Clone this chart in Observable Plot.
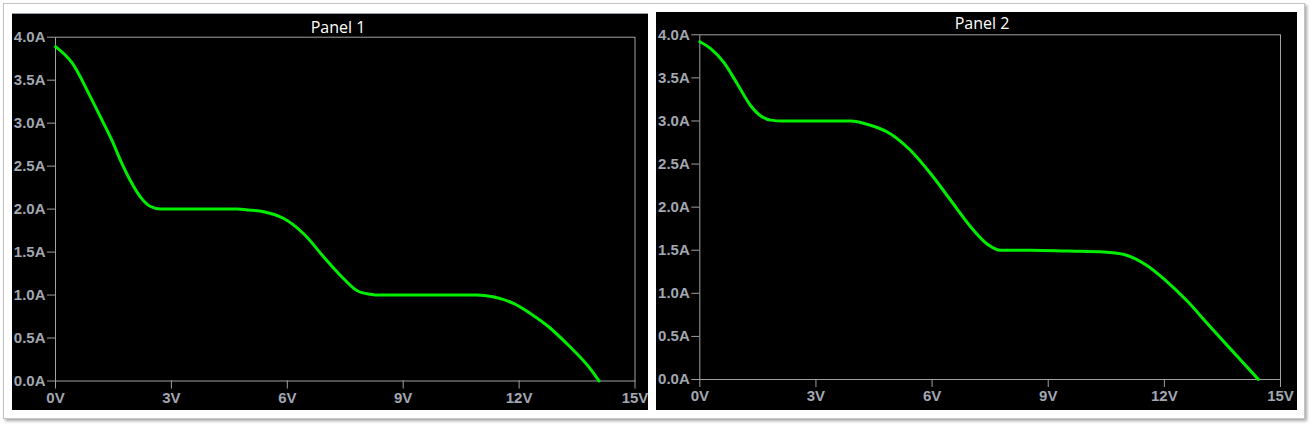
<!DOCTYPE html>
<html>
<head>
<meta charset="utf-8">
<script src="https://cdn.jsdelivr.net/npm/d3@7"></script>
<script src="https://cdn.jsdelivr.net/npm/@observablehq/plot@0.6"></script>
<style>
  html, body { margin: 0; padding: 0; background: #ffffff; width: 1310px; height: 424px; overflow: hidden; }
  #outer { position: absolute; left: 3px; top: 3px; width: 1300px; height: 414px; border: 1px solid #c4c4c4; background: #ffffff; box-shadow: 2px 2px 3px rgba(0,0,0,0.35); }
  .panel { position: absolute; background: #000; }
  .panel svg { display: block; }
  .title { position: absolute; color: #ffffff; font-family: "Open Sans", sans-serif; font-size: 16px; line-height: 16px; white-space: nowrap; transform: translateX(-50%); }
</style>
</head>
<body>
<div id="outer"></div>
<div class="panel" id="p1" style="left:12px; top:13px; width:636px; height:397px; border-top:1px solid #9aa0aa; box-sizing:border-box;"></div>
<div class="panel" id="p2" style="left:656px; top:12px; width:641px; height:398px;"></div>
<div class="title" style="left:338px; top:19px;">Panel 1</div>
<div class="title" style="left:982px; top:15px;">Panel 2</div>
<script>
// Tick values
const xTicks = [0, 3, 6, 9, 12, 15];
const yTicks = [0, 0.5, 1.0, 1.5, 2.0, 2.5, 3.0, 3.5, 4.0];

// Panel 1 series (V, A)
const panel1V = [0, 0.43, 0.91, 1.21, 1.47, 1.70, 1.94, 2.20, 2.46, 2.72, 3.5, 4.70, 5.0, 5.39, 5.91, 6.43, 6.95, 7.46, 7.81, 8.15, 8.38, 9.5, 10.89, 11.32, 11.87, 12.31, 12.74, 13.29, 13.83, 14.07];
const panel1I = [3.89, 3.70, 3.30, 3.03, 2.79, 2.55, 2.33, 2.14, 2.03, 2.0, 2.0, 2.0, 1.99, 1.97, 1.89, 1.71, 1.44, 1.19, 1.05, 1.01, 1.0, 1.0, 1.0, 0.98, 0.90, 0.78, 0.64, 0.41, 0.15, 0];

// Panel 2 series (V, A)
const panel2V = [0, 0.28, 0.62, 0.97, 1.31, 1.57, 1.83, 2.17, 3.0, 3.89, 4.41, 4.93, 5.44, 5.96, 6.48, 7.0, 7.43, 7.77, 8.55, 9.5, 10.44, 10.96, 11.56, 12.03, 12.59, 13.11, 13.35, 13.90, 14.43];
const panel2I = [3.92, 3.84, 3.68, 3.43, 3.18, 3.06, 3.01, 3.0, 3.0, 3.0, 2.95, 2.85, 2.66, 2.39, 2.08, 1.77, 1.57, 1.50, 1.5, 1.49, 1.48, 1.45, 1.32, 1.15, 0.91, 0.65, 0.53, 0.26, 0];

function makePlot(V, I, opts) {
  const data = V.map((v, i) => ({v, i: I[i]}));
  const font = "'Liberation Sans', Arial, sans-serif";
  return Plot.plot({
    width: opts.width,
    height: opts.height,
    marginLeft: opts.ml,
    marginRight: opts.mr,
    marginTop: opts.mt,
    marginBottom: opts.mb,
    style: {background: "#000", color: "#a2a7b2", fontFamily: font, fontSize: "15px", fontWeight: "bold", overflow: "visible"},
    x: {domain: [0, 15], label: null},
    y: {domain: [0, 4], label: null},
    marks: [
      Plot.frame({stroke: "#a0a0a0", strokeWidth: 1}),
      Plot.axisX({ticks: xTicks, tickFormat: d => d + "V", tickSize: 8, tickPadding: 3, label: null, stroke: "#a0a0a0", fill: "#a2a7b2", fontSize: 15, fontWeight: "bold", fontFamily: font}),
      Plot.axisY({ticks: yTicks, tickFormat: d => d.toFixed(1) + "A", tickSize: 8, tickPadding: 2, label: null, stroke: "#a0a0a0", fill: "#a2a7b2", fontSize: 15, fontWeight: "bold", fontFamily: font}),
      Plot.line(data, {x: "v", y: "i", stroke: "#00ee00", strokeWidth: 3, curve: "monotone-x"})
    ]
  });
}

document.getElementById("p1").appendChild(makePlot(panel1V, panel1I, {width: 636, height: 396, ml: 43, mr: 13.5, mt: 22.7, mb: 29.5}));
document.getElementById("p2").appendChild(makePlot(panel2V, panel2I, {width: 641, height: 398, ml: 43.3, mr: 17, mt: 22.3, mb: 31}));
</script>
</body>
</html>
